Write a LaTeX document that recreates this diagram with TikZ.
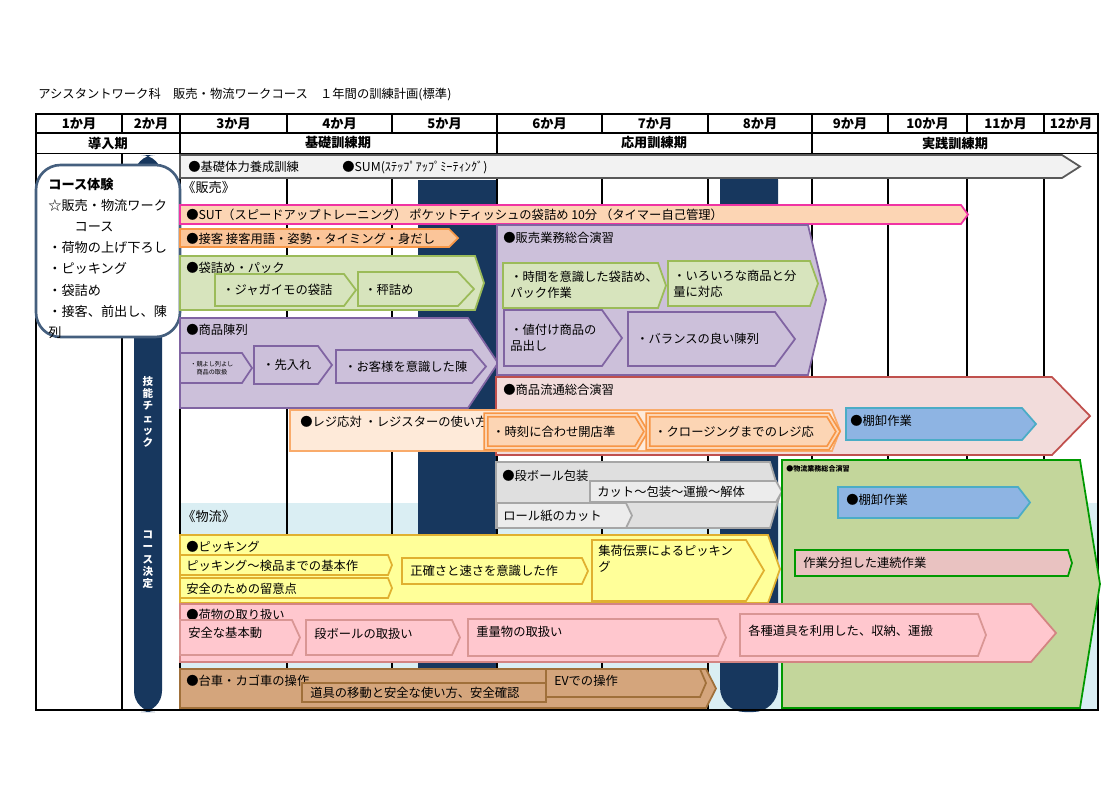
\documentclass[tikz,border=0pt]{standalone}
\usepackage{fontspec}
\setmainfont{Noto Sans CJK JP}
\newfontfamily\cjkb{Noto Sans CJK JP}[BoldFont={* Bold}]
\definecolor{navy}{HTML}{17375E}
\definecolor{peach}{HTML}{FCD5B4}
\definecolor{org}{HTML}{F79646}
\definecolor{lgreen}{HTML}{D7E4BD}
\definecolor{dgreen}{HTML}{9BBB59}
\definecolor{lpurp}{HTML}{CCC0DA}
\definecolor{dpurp}{HTML}{8064A2}
\definecolor{lred}{HTML}{F2DCDB}
\definecolor{dred}{HTML}{C0504D}
\definecolor{lblue}{HTML}{8EB4E3}
\definecolor{cblue}{HTML}{4BACC6}
\definecolor{olive}{HTML}{C3D69B}
\definecolor{yel}{HTML}{FFFF99}
\definecolor{gold}{HTML}{E0B030}
\definecolor{pink}{HTML}{FFC7CE}
\definecolor{tan}{HTML}{D4A57C}
\definecolor{dtan}{HTML}{A0703A}
\definecolor{skyb}{HTML}{DAEEF3}
\newcommand\parr[6][]{\draw[line width=1pt,#1] (#2,#3) -- ({#4-#6},#3) -- (#4,{(#3+#5)/2}) -- ({#4-#6},#5) -- (#2,#5) -- cycle;}
\tikzset{
 lbl/.style={inner sep=0pt,anchor=west,font=\fontsize{7}{9}\selectfont,align=left},
 hd/.style={inner sep=0pt,font=\fontsize{7.5}{9}\selectfont\bfseries},
 grid/.style={line width=0.8pt,black},
}
\begin{document}
\begin{tikzpicture}[x=0.02cm,y=-0.02cm]
\useasboundingbox (0,0) rectangle (1120,789);
\node[lbl] (title) at (38,95) {アシスタントワーク科　販売・物流ワークコース　１年間の訓練計画(標準)};
% background
\fill[skyb] (180,503) rectangle (1098,710);
% dark bars
\fill[navy,rounded corners=12pt] (134,155) rectangle (162,712);
\fill[navy] (418,180) rectangle (497,710);
\fill[navy,rounded corners=14pt] (720,155) rectangle (778,712);
% grid verticals in body
\foreach \x in {122,180,287,392,497,602,708,812,888,967,1044}
  \draw[grid] (\x,114) -- (\x,710);
\fill[white] (123,114.5) rectangle (179,152);
\draw[grid] (122,114) -- (122,133);
% header
\draw[line width=1.5pt] (36,114) rectangle (1098,710);
\draw[grid] (36,133) -- (1098,133);
\draw[grid] (36,153) -- (1098,153);
\fill[white] (37,134) rectangle (1097,152.5);
\foreach \x in {180,497,812} \draw[grid] (\x,133) -- (\x,153);
\foreach \a/\b/\t in {36/122/1か月,122/180/2か月,180/287/3か月,287/392/4か月,392/497/5か月,497/602/6か月,602/708/7か月,708/812/8か月,812/888/9か月,888/967/10か月,967/1044/11か月,1044/1098/12か月}
  \node[hd] at ({(\a+\b)/2},124) {\t};
\node[hd] (p1) at (108,143) {導入期};
\node[hd] (p2) at (338,143) {基礎訓練期};
\node[hd] (p3) at (654,143) {応用訓練期};
\node[hd] (p4) at (955,143) {実践訓練期};
\node[font=\fontsize{6}{7}\selectfont\bfseries,text=white,align=center,inner sep=0pt] (skill) at (148,412) {技\\能\\チ\\ェ\\ッ\\ク};
\node[font=\fontsize{6}{7}\selectfont\bfseries,text=white,align=center,inner sep=0pt] (kd) at (148,560) {コ\\ー\\ス\\決\\定};
% course box
\draw[navy!80,line width=1.5pt,fill=white,rounded corners=14pt] (36,165) rectangle (180,337);
\node[lbl,anchor=north west,font=\fontsize{7.5}{12}\selectfont] (ct) at (48,178) {\textbf{コース体験}\\☆販売・物流ワーク\\　　コース\\・荷物の上げ下ろし\\・ピッキング\\・袋詰め\\・接客、前出し、陳\\列};
% grey arrow
\parr[fill=gray!10,draw=gray!70!black]{180}{155}{1080}{178}{18}
\node[lbl] (k1) at (188,167) {●基礎体力養成訓練};
\node[lbl] (k2) at (342,167) {●SUM(ｽﾃｯﾌﾟｱｯﾌﾟﾐｰﾃｨﾝｸﾞ)};
\node[lbl,font=\fontsize{7.5}{9}\selectfont] (hanb) at (182,187) {《販売》};
% SUT
\parr[fill=peach,draw=magenta!80]{180}{205}{968}{224}{7}
\node[lbl] (sut) at (186,215) {●SUT（スピードアップトレーニング）  ポケットティッシュの袋詰め  10分 （タイマー自己管理）};
\parr[fill=org!55,draw=org]{180}{229}{458}{247}{9}
\node[lbl] (sk) at (186,239) {●接客  接客用語・姿勢・タイミング・身だし};
% bag
\parr[fill=lgreen,draw=dgreen]{180}{256}{484}{310}{9}
\node[lbl] (bg) at (186,268) {●袋詰め・パック};
\parr[fill=lgreen,draw=dgreen]{215}{274}{356}{306}{12}
\node[lbl] (bg1) at (222,290) {・ジャガイモの袋詰};
\parr[fill=lgreen,draw=dgreen]{358}{272}{474}{306}{16}
\node[lbl] (bg2) at (364,290) {・秤詰め};
% display
\parr[fill=lpurp,draw=dpurp]{180}{318}{498}{408}{30}
\node[lbl] (dp) at (186,330) {●商品陳列};
\parr[fill=lpurp,draw=dpurp]{180}{353}{252}{383}{10}
\node[lbl,font=\fontsize{3.5}{4.5}\selectfont] (dp1) at (190,368) {・競よし列よし\\　商品の取扱};
\parr[fill=lpurp,draw=dpurp]{254}{346}{332}{384}{14}
\node[lbl] (dp2) at (262,365) {・先入れ};
\parr[fill=lpurp,draw=dpurp]{336}{350}{486}{383}{14}
\node[lbl] (dp3) at (344,367) {・お客様を意識した陳};
% sales practice
\draw[line width=1pt,fill=lpurp,draw=dpurp] (497,225) -- (808,225) -- (826,300) -- (808,375) -- (497,375) -- cycle;
\node[lbl] (sp) at (503,238) {●販売業務総合演習};
\parr[fill=lgreen,draw=dgreen]{503}{263}{666}{308}{8}
\node[lbl] (sp1) at (510,285) {・時間を意識した袋詰め、\\パック作業};
\parr[fill=lgreen,draw=dgreen]{668}{261}{818}{306}{8}
\node[lbl] (sp2) at (673,284) {・いろいろな商品と分\\量に対応};
\parr[fill=lpurp,draw=dpurp]{504}{310}{622}{366}{20}
\node[lbl] (sp3) at (510,338) {・値付け商品の\\品出し};
\parr[fill=lpurp,draw=dpurp]{628}{312}{795}{366}{20}
\node[lbl] (sp4) at (636,339) {・バランスの良い陳列};
% distribution practice
\parr[fill=lred,draw=dred]{496}{377}{1090}{455}{38}
\node[lbl] (dpr) at (503,390) {●商品流通総合演習};
\parr[fill=peach!50,draw=org!80]{290}{410}{840}{451}{8}
\node[lbl] (rj) at (300,422) {●レジ応対  ・レジスターの使い方};
\parr[fill=peach,draw=org,double=peach,double distance=1pt]{486}{415}{646}{448}{10}
\node[lbl] (rj1) at (492,432) {・時刻に合わせ開店準};
\parr[fill=peach,draw=org,double=peach,double distance=1pt]{648}{415}{838}{448}{10}
\node[lbl] (rj2) at (654,432) {・クロージングまでのレジ応};
\parr[fill=lblue,draw=cblue]{846}{408}{1036}{440}{14}
\node[lbl] (tn1) at (850,421) {●棚卸作業};
% cardboard
\parr[fill=gray!25,draw=gray!70]{496}{462}{780}{528}{10}
\node[lbl] (cb) at (502,476) {●段ボール包装};
\parr[fill=gray!15,draw=gray!70]{590}{481}{782}{502}{6}
\node[lbl] (cb1) at (597,492) {カット～包装～運搬～解体};
\parr[fill=gray!15,draw=gray!70]{497}{503}{632}{528}{6}
\node[lbl] (cb2) at (503,516) {ロール紙のカット};
% logistics practice
\draw[line width=1pt,fill=olive,draw=green!60!black] (782,460) -- (1080,460) -- (1100,584) -- (1080,708) -- (782,708) -- cycle;
\node[lbl,font=\fontsize{4}{5}\selectfont\bfseries] (lp) at (786,469) {●物流業務総合演習};
\parr[fill=lblue,draw=cblue]{838}{487}{1030}{518}{12}
\node[lbl] (tn2) at (846,500) {●棚卸作業};
\parr[fill=dred!35,draw=green!60!black]{795}{550}{1072}{576}{4}
\node[lbl] (bt) at (803,563) {作業分担した連続作業};
\node[lbl,font=\fontsize{7.5}{9}\selectfont] (butsu) at (182,516) {《物流》};
% picking
\parr[fill=yel,draw=gold]{180}{535}{780}{603}{12}
\node[lbl] (pk) at (186,547) {●ピッキング};
\parr[fill=yel,draw=gold]{180}{555}{392}{575}{4}
\node[lbl] (pk1) at (186,566) {ピッキング～検品までの基本作};
\parr[fill=yel,draw=gold]{180}{578}{392}{598}{4}
\node[lbl] (pk2) at (186,589) {安全のための留意点};
\parr[fill=yel,draw=gold]{402}{558}{588}{584}{6}
\node[lbl] (pk3) at (410,571) {正確さと速さを意識した作};
\parr[fill=yel,draw=gold]{592}{540}{764}{601}{18}
\node[lbl,anchor=north west] (pk4) at (598,545) {集荷伝票によるピッキン\\グ};
% cargo handling
\parr[fill=pink,draw=dred!70]{180}{604}{1056}{662}{25}
\node[lbl] (ch) at (186,615) {●荷物の取り扱い};
\parr[fill=pink,draw=dred!60]{180}{620}{300}{655}{8}
\node[lbl] (ch1) at (188,633) {安全な基本動};
\parr[fill=pink,draw=dred!60]{306}{620}{460}{655}{8}
\node[lbl] (ch2) at (314,634) {段ボールの取扱い};
\parr[fill=pink,draw=dred!60]{468}{619}{726}{656}{8}
\node[lbl] (ch3) at (476,632) {重量物の取扱い};
\parr[fill=pink,draw=dred!60]{740}{614}{986}{656}{8}
\node[lbl] (ch4) at (748,631) {各種道具を利用した、収納、運搬};
% cart
\parr[fill=tan,draw=dtan]{180}{669}{716}{708}{10}
\node[lbl] (ca) at (186,681) {●台車・カゴ車の操作};
\parr[fill=tan,draw=dtan]{546}{669}{706}{697}{6}
\node[lbl] (ca2) at (554,681) {EVでの操作};
\draw[line width=1pt,fill=tan,draw=dtan] (302,683) rectangle (546,702);
\node[lbl] (ca1) at (310,693) {道具の移動と安全な使い方、安全確認};
\end{tikzpicture}
\end{document}
